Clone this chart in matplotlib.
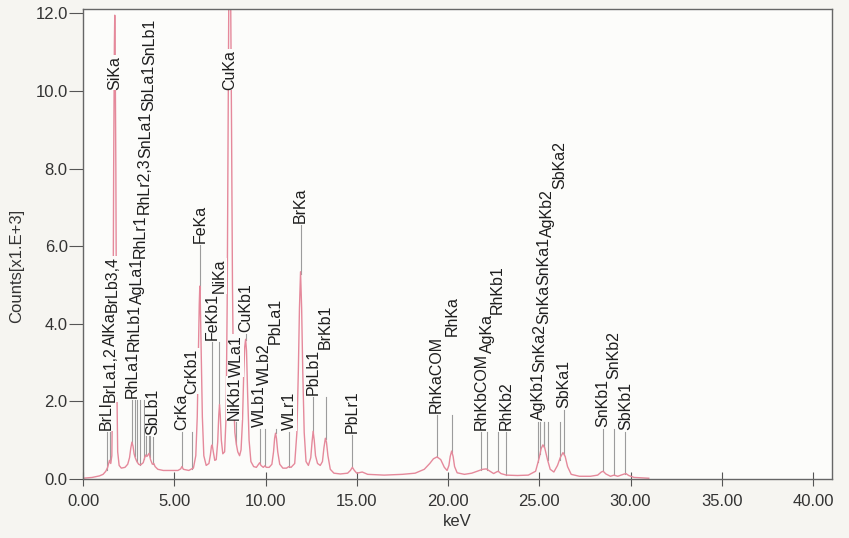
import matplotlib
matplotlib.use("Agg")
import matplotlib.pyplot as plt
import numpy as np

plt.rcParams['font.family'] = ['Liberation Sans', 'DejaVu Sans']

# ---- spectrum (keV, counts x1e3) ----
spec_kev = [0.00, 0.50, 0.90, 1.10, 1.25, 1.35, 1.45, 1.52, 1.58, 1.64, 1.68, 1.72, 1.74, 1.76, 1.80,
            1.84, 1.90, 1.98, 2.10, 2.30, 2.45, 2.55, 2.62, 2.68, 2.74, 2.80, 2.86, 2.95, 3.05, 3.15,
            3.30, 3.38, 3.44, 3.50, 3.56, 3.62, 3.70, 3.80, 3.88, 3.95, 4.10, 4.40, 4.80, 5.20, 5.35,
            5.42, 5.50, 5.80, 5.95, 6.05, 6.18, 6.26, 6.32, 6.37, 6.40, 6.43, 6.48, 6.54, 6.62, 6.75,
            6.90, 6.98, 7.04, 7.08, 7.14, 7.22, 7.30, 7.38, 7.44, 7.48, 7.52, 7.58, 7.66, 7.76, 7.84,
            7.90, 7.95, 7.99, 8.04, 8.09, 8.14, 8.19, 8.25, 8.32, 8.40, 8.48, 8.58, 8.66, 8.74, 8.80,
            8.86, 8.91, 8.96, 9.02, 9.10, 9.20, 9.35, 9.50, 9.62, 9.68, 9.75, 9.88, 9.96, 10.05, 10.20,
            10.35, 10.44, 10.50, 10.55, 10.60, 10.67, 10.78, 10.95, 11.15, 11.28, 11.40, 11.60, 11.72,
            11.80, 11.86, 11.92, 11.98, 12.04, 12.12, 12.22, 12.35, 12.48, 12.55, 12.61, 12.67, 12.74,
            12.85, 13.00, 13.12, 13.20, 13.28, 13.34, 13.42, 13.55, 13.75, 14.10, 14.50, 14.65, 14.76,
            14.87, 15.00, 15.30, 15.60, 16.50, 17.50, 18.20, 18.70, 19.00, 19.20, 19.40, 19.60, 19.80,
            19.95, 20.05, 20.12, 20.20, 20.28, 20.36, 20.50, 20.90, 21.30, 21.60, 21.90, 22.10, 22.30,
            22.50, 22.65, 22.75, 22.90, 23.20, 23.80, 24.40, 24.80, 25.00, 25.10, 25.20, 25.30, 25.45,
            25.60, 25.80, 26.00, 26.15, 26.30, 26.42, 26.55, 26.75, 27.20, 27.80, 28.20, 28.40, 28.50,
            28.65, 28.90, 29.10, 29.30, 29.60, 29.75, 29.90, 30.20, 31.00]
spec_counts = [0.02, 0.04, 0.08, 0.12, 0.20, 0.30, 0.48, 0.40, 0.60, 3.0, 8.0, 11.2, 11.95, 11.2, 8.0,
               3.0, 0.70, 0.35, 0.28, 0.30, 0.38, 0.55, 0.80, 0.95, 0.85, 0.65, 0.55, 0.45, 0.38, 0.36,
               0.42, 0.55, 0.62, 0.58, 0.62, 0.66, 0.50, 0.38, 0.40, 0.32, 0.25, 0.22, 0.22, 0.22, 0.26,
               0.32, 0.25, 0.22, 0.26, 0.28, 0.60, 1.60, 3.20, 4.50, 4.97, 4.50, 3.20, 1.60, 0.60, 0.35,
               0.40, 0.62, 0.85, 0.88, 0.70, 0.48, 0.50, 0.95, 1.65, 1.92, 1.65, 1.00, 0.65, 0.70, 1.60,
               4.50, 9.00, 12.5, 13.5, 12.5, 9.00, 5.00, 2.20, 1.20, 0.90, 0.70, 0.60, 0.75, 1.50, 2.60,
               3.40, 3.60, 3.30, 2.20, 1.00, 0.45, 0.32, 0.30, 0.38, 0.42, 0.35, 0.30, 0.34, 0.30, 0.30,
               0.38, 0.70, 1.05, 1.18, 1.05, 0.70, 0.38, 0.28, 0.28, 0.32, 0.30, 0.40, 1.20,
               2.80, 4.40, 5.34, 4.40, 2.80, 1.20, 0.45, 0.35, 0.55, 0.95, 1.23, 1.00, 0.60,
               0.40, 0.35, 0.45, 0.80, 1.05, 0.95, 0.60, 0.25, 0.15, 0.13, 0.15, 0.22, 0.30,
               0.22, 0.15, 0.18, 0.12, 0.10, 0.12, 0.15, 0.25, 0.40, 0.52, 0.57, 0.50, 0.30,
               0.22, 0.35, 0.58, 0.72, 0.58, 0.32, 0.16, 0.12, 0.15, 0.20, 0.25, 0.26, 0.20,
               0.14, 0.18, 0.20, 0.14, 0.10, 0.09, 0.10, 0.20, 0.55, 0.78, 0.88, 0.80, 0.50,
               0.25, 0.18, 0.35, 0.55, 0.68, 0.58, 0.32, 0.12, 0.07, 0.07, 0.10, 0.18, 0.20,
               0.13, 0.07, 0.10, 0.07, 0.12, 0.14, 0.09, 0.04, 0.02]

# ---- identified lines ----
line_names = ['BrLl', 'BrLa1,2', 'AlKa', 'BrLb3,4', 'SiKa',
              'RhLa1', 'RhLb1', 'AgLa1', 'RhLr1', 'RhLr2,3', 'SnLa1', 'SbLa1', 'SnLb1', 'SbLb1',
              'CrKa', 'CrKb1', 'FeKa', 'FeKb1', 'NiKa', 'CuKa', 'NiKb1', 'WLa1', 'CuKb1',
              'WLb1', 'WLb2', 'PbLa1', 'WLr1', 'BrKa', 'PbLb1', 'BrKb1', 'PbLr1',
              'RhKaCOM', 'RhKa', 'RhKbCOM', 'AgKa', 'RhKb1', 'RhKb2',
              'AgKb1', 'SnKa2', 'SnKa', 'SnKa1', 'AgKb2', 'SbKa2', 'SbKa1',
              'SnKb1', 'SnKb2', 'SbKb1']
line_kev = [1.293, 1.480, 1.486, 1.600, 1.740,
            2.697, 2.834, 2.984, 3.144, 3.360, 3.444, 3.605, 3.663, 3.843,
            5.415, 5.947, 6.404, 7.058, 7.478, 8.048, 8.265, 8.398, 8.905,
            9.672, 9.962, 10.551, 11.285, 11.924, 12.614, 13.292, 14.765,
            19.38, 20.216, 21.80, 22.162, 22.724, 23.170,
            24.942, 25.044, 25.270, 25.271, 25.457, 26.111, 26.359,
            28.486, 29.109, 29.725]

# layout: label bottom (data units); None = stacked on top of previous label
label_bottom = [1.26, None, None, None, 10.03,
                2.09, None, None, None, None, None, None, None, 1.13,
                1.26, None, 6.08, 3.58, None, 10.03, 1.52, None, 3.79,
                1.34, None, None, 1.26, 6.60, 2.16, None, 1.19,
                1.70, None, 1.26, None, None, 1.26,
                1.52, None, None, None, None, None, 1.83,
                1.34, None, 1.26]

xticks = [0, 5, 10, 15, 20, 25, 30, 35, 40]
xtick_labels = ['0.00', '5.00', '10.00', '15.00', '20.00', '25.00', '30.00', '35.00', '40.00']
yticks = [0, 2, 4, 6, 8, 10, 12]
ytick_labels = ['0.0', '2.0', '4.0', '6.0', '8.0', '10.0', '12.0']

W, H = 849, 538
fig_bg = '#f6f5f1'
ax_bg = '#fcfcfa'
fig = plt.figure(figsize=(W / 100, H / 100), dpi=100, facecolor=fig_bg)
ax = fig.add_axes([83 / W, 1 - 479 / H, (832 - 83) / W, (479 - 9) / H], facecolor=ax_bg)
ax.set_xlim(0, 41.04)
ax.set_ylim(0, 12.11)

ax.plot(spec_kev, spec_counts, color='#e5899b', lw=1.0, zorder=2.5)

ax.set_xticks(xticks)
ax.set_xticklabels(xtick_labels)
ax.set_yticks(yticks)
ax.set_yticklabels(ytick_labels)
ax.tick_params(axis='x', direction='inout', length=10, pad=6, labelsize=12,
               color='#555555', labelcolor='#333333')
ax.tick_params(axis='y', direction='out', length=10, pad=1, labelsize=12,
               color='#555555', labelcolor='#333333')
for s in ax.spines.values():
    s.set_color('#666666')
    s.set_linewidth(1.0)

fig.text(457 / W, 1 - 521 / H, 'keV', ha='center', va='center', fontsize=12, color='#333333')
fig.text(17 / W, 1 - 266 / H, 'Counts[x1.E+3]', ha='center', va='center', rotation=90,
         fontsize=12, color='#333333')

renderer = fig.canvas.get_renderer()
inv = ax.transData.inverted()
prev_top = None
group_base = None
for name, e, base in zip(line_names, line_kev, label_bottom):
    if base is None:
        bottom = prev_top
    else:
        bottom = base
        group_base = base
    t = ax.text(e, bottom, name, rotation=90, ha='center', va='bottom', fontsize=11.5,
                color='#1e1e1e', zorder=4,
                bbox=dict(facecolor=ax_bg, edgecolor='none', pad=0.3))
    bb = t.get_window_extent(renderer)
    prev_top = inv.transform((0, bb.y1))[1]
    y0 = float(np.interp(e, spec_kev, spec_counts))
    ytop = group_base - 0.05
    if ytop > y0:
        ax.plot([e, e], [y0, ytop], color='#9c9c9c', lw=0.8, zorder=2)

fig.savefig('out.png', dpi=100, facecolor=fig_bg)
